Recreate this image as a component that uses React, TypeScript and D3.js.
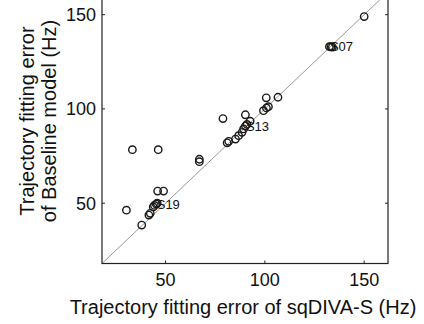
import React from "react";
import * as d3 from "d3";

const sqdivaErr = [150, 132.5, 133.3, 134, 106.6, 100.7, 101.8, 99.3, 100.8, 90.2, 78.9, 92.6, 90.2, 89.3, 88.5, 86.8, 85.2, 81, 81.8, 67, 67, 33.3, 46.3, 46, 49, 30.3, 38, 41.6, 42.3, 43.8, 44.4, 45.3, 45.8, 91];
const baselineErr = [149, 133, 133, 132.8, 106.2, 105.9, 101.2, 99.1, 100.5, 96.9, 94.9, 93.5, 90.9, 89.4, 87.6, 85.8, 84, 82, 82.8, 73.3, 72, 78.4, 78.4, 56.4, 56.4, 46.3, 38.4, 43.7, 44.6, 48, 48.8, 49.5, 50, 91.8];
const labelNames = ["S07", "S13", "S19"];
const labelX = [132.5, 90.2, 45.3];
const labelY = [133, 90.9, 49.5];
const tickValues = [50, 100, 150];
const axisMin = 18;
const axisMax = 162;

const W = 424;
const H = 324;
const left = 102;
const right = 388;
const bottom = 263.5;
const ppuY = 1.885;

export default function App() {
  const x = d3.scaleLinear().domain([axisMin, axisMax]).range([left, right]);
  const y = d3.scaleLinear().domain([axisMin, axisMax]).range([bottom, bottom - (axisMax - axisMin) * ppuY]);
  const top = y(axisMax);
  const font = "'Liberation Sans', Arial, Helvetica, sans-serif";
  const diag = d3.line<number>().x((d) => x(d)).y((d) => y(d))([axisMin, axisMax]) || "";
  return (
    <svg width={W} height={H} style={{ position: "absolute", left: 0, top: 0, background: "#fff" }} fontFamily={font}>
      <defs>
        <clipPath id="plotclip">
          <rect x={left} y={top} width={right - left} height={bottom - top} />
        </clipPath>
      </defs>
      <rect x={0} y={0} width={W} height={H} fill="#fff" />
      <path d={diag} stroke="#9a9a9a" strokeWidth={1} fill="none" clipPath="url(#plotclip)" />
      {sqdivaErr.map((v, i) => (
        <circle key={i} cx={x(v)} cy={y(baselineErr[i])} r={3.7} fill="none" stroke="#1a1a1a" strokeWidth={1.4} />
      ))}
      {labelNames.map((n, i) => (
        <text key={n} x={x(labelX[i]) + 0.5} y={y(labelY[i])} dy="0.36em" fontSize={13} fill="#111">
          {n}
        </text>
      ))}
      <rect x={left} y={top} width={right - left} height={bottom - top} fill="none" stroke="#222" strokeWidth={1.2} />
      {tickValues.map((t) => (
        <g key={"x" + t}>
          <line x1={x(t)} x2={x(t)} y1={bottom} y2={bottom - 3} stroke="#222" />
          <line x1={x(t)} x2={x(t)} y1={top} y2={top + 3} stroke="#222" />
          <text x={x(t)} y={bottom + 16} dy="0.36em" textAnchor="middle" fontSize={18} fill="#111">
            {t}
          </text>
        </g>
      ))}
      {tickValues.map((t) => (
        <g key={"y" + t}>
          <line x1={left} x2={left + 3} y1={y(t)} y2={y(t)} stroke="#222" />
          <line x1={right} x2={right - 3} y1={y(t)} y2={y(t)} stroke="#222" />
          <text x={left - 6} y={y(t)} dy="0.36em" textAnchor="end" fontSize={18} fill="#111">
            {t}
          </text>
        </g>
      ))}
      <text x={(left + right) / 2 - 2} y={307} dy="0.36em" textAnchor="middle" fontSize={20} fill="#111">
        Trajectory fitting error of sqDIVA-S (Hz)
      </text>
      <g transform="translate(27,121) rotate(-90)">
        <text x={0} y={0} dy="0.36em" textAnchor="middle" fontSize={20} fill="#111">
          Trajectory fitting error
        </text>
        <text x={0} y={22} dy="0.36em" textAnchor="middle" fontSize={20} fill="#111">
          of Baseline model (Hz)
        </text>
      </g>
    </svg>
  );
}
